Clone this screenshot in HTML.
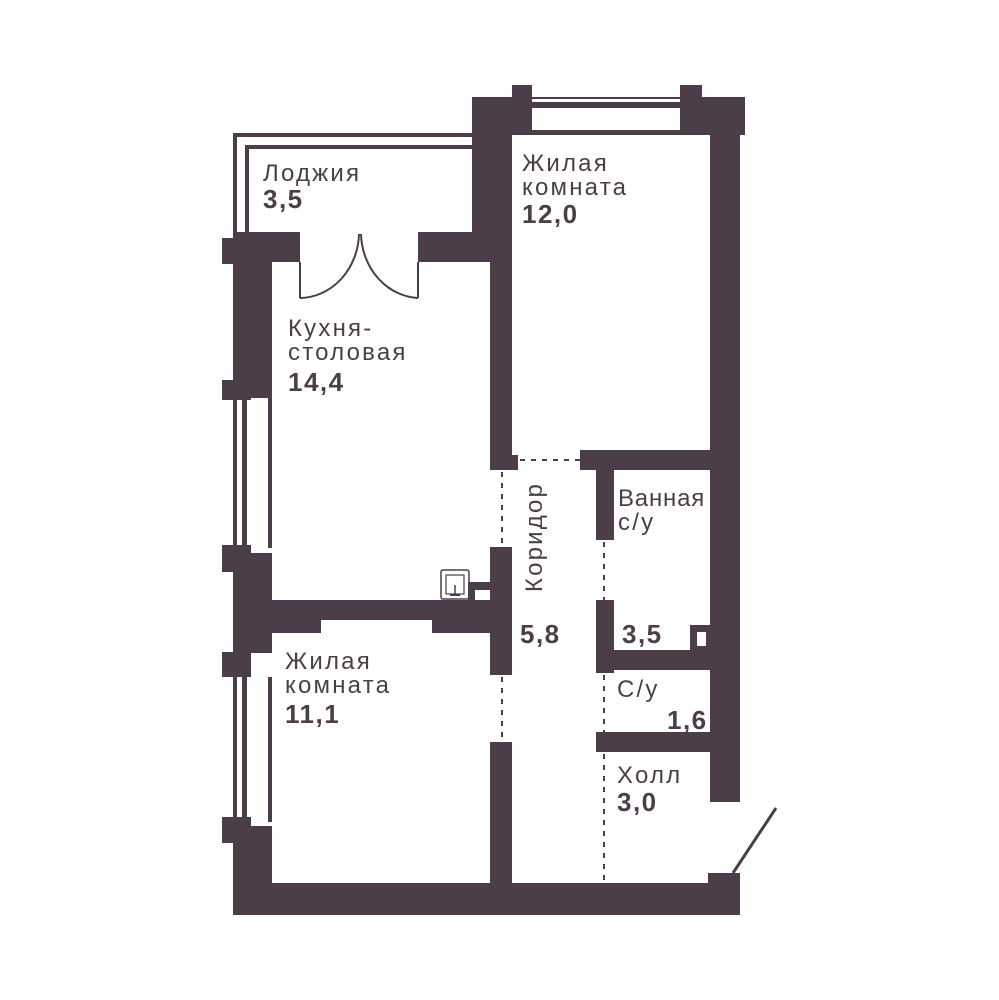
<!DOCTYPE html>
<html><head><meta charset="utf-8"><style>
html,body{margin:0;padding:0;background:#fff;}
svg{display:block;}
text{font-family:"Liberation Sans","DejaVu Sans",sans-serif;fill:#4b3e48;font-size:24px;letter-spacing:2.2px;}
.b{font-weight:bold;font-size:26px;letter-spacing:1.5px;}
.n{letter-spacing:0.8px;}
</style></head><body>
<svg width="999" height="1000" viewBox="0 0 999 1000" xmlns="http://www.w3.org/2000/svg">
<g fill="#4b3e48">
<rect x="472" y="97" width="273" height="38"/>
<rect x="512" y="85" width="20" height="50"/>
<rect x="680" y="85" width="22" height="50"/>
<rect x="472" y="97" width="40" height="165"/>
<rect x="490" y="250" width="22" height="220"/>
<rect x="490" y="455" width="28" height="15"/>
<rect x="710" y="97" width="30" height="705"/>
<rect x="233" y="133" width="239" height="4"/>
<rect x="233" y="133" width="4" height="102"/>
<rect x="245" y="145" width="227" height="4"/>
<rect x="245" y="145" width="4" height="90"/>
<rect x="233" y="232" width="67" height="30"/>
<rect x="222" y="238" width="14" height="26"/>
<rect x="418" y="232" width="94" height="30"/>
<rect x="233" y="232" width="39" height="166"/>
<rect x="222" y="380" width="29" height="20"/>
<rect x="233" y="398" width="4" height="150"/>
<rect x="242" y="398" width="5" height="150"/>
<rect x="268" y="398" width="4" height="150"/>
<rect x="222" y="545" width="29" height="27"/>
<rect x="233" y="553" width="39" height="100"/>
<rect x="222" y="652" width="29" height="25"/>
<rect x="233" y="677" width="4" height="145"/>
<rect x="242" y="677" width="5" height="145"/>
<rect x="268" y="677" width="4" height="145"/>
<rect x="222" y="817" width="29" height="26"/>
<rect x="233" y="826" width="39" height="89"/>
<rect x="272" y="600" width="238" height="20"/>
<rect x="272" y="618" width="49" height="15"/>
<rect x="432" y="618" width="78" height="15"/>
<rect x="490" y="547" width="22" height="128"/>
<rect x="468" y="582" width="24" height="18"/>
<rect x="490" y="742" width="22" height="145"/>
<rect x="580" y="450" width="160" height="20"/>
<rect x="596" y="450" width="18" height="90"/>
<rect x="596" y="600" width="18" height="73"/>
<rect x="596" y="650" width="144" height="20"/>
<rect x="690" y="625" width="22" height="27"/>
<rect x="596" y="732" width="144" height="20"/>
<rect x="233" y="883" width="507" height="32"/>
<rect x="708" y="873" width="32" height="42"/>
</g>
<g fill="#fff">
<rect x="532" y="99" width="148" height="3"/>
<rect x="532" y="108" width="148" height="22"/>
<rect x="475" y="590" width="15" height="10"/>
<rect x="697" y="632" width="9" height="14"/>
</g>
<g fill="none" stroke="#4b3e48" stroke-width="2">
<line x1="300" y1="262" x2="300" y2="298"/>
<path d="M300 298 A60 66 0 0 0 359 234"/>
<line x1="418" y1="262" x2="418" y2="298"/>
<path d="M418 298 A60 66 0 0 1 361 234"/>
<line x1="733" y1="873" x2="776" y2="808" stroke-width="3"/>
<rect x="441" y="570" width="28" height="29" rx="2" stroke-width="1.5"/>
<rect x="446" y="575" width="18" height="19" stroke-width="1.2"/>
<line x1="455" y1="585" x2="455" y2="595" stroke-width="1.5"/>
<line x1="450" y1="595" x2="460" y2="595" stroke-width="2"/>
</g>
<g stroke="#4b3e48" stroke-width="2" stroke-dasharray="5,6" fill="none">
<line x1="502" y1="472" x2="502" y2="547"/>
<line x1="502" y1="677" x2="502" y2="742"/>
<line x1="520" y1="460" x2="580" y2="460"/>
<line x1="604" y1="542" x2="604" y2="600"/>
<line x1="604" y1="675" x2="604" y2="732"/>
<line x1="604" y1="754" x2="604" y2="883"/>
</g>
<text x="263" y="181">Лоджия</text>
<text x="263" y="208" class="b">3,5</text>
<text x="522" y="171">Жилая</text>
<text x="522" y="195">комната</text>
<text x="522" y="223" class="b">12,0</text>
<text x="288" y="336">Кухня-</text>
<text x="288" y="360">столовая</text>
<text x="288" y="391" class="b">14,4</text>
<text x="0" y="0" text-anchor="middle" transform="translate(542,537) rotate(-90)">Коридор</text>
<text x="520" y="643" class="b">5,8</text>
<text x="618" y="506" class="n">Ванная</text>
<text x="618" y="530">с/у</text>
<text x="622" y="643" class="b">3,5</text>
<text x="617" y="697">С/у</text>
<text x="667" y="729" class="b">1,6</text>
<text x="617" y="783">Холл</text>
<text x="617" y="811" class="b">3,0</text>
<text x="285" y="669">Жилая</text>
<text x="285" y="693">комната</text>
<text x="285" y="723" class="b">11,1</text>
</svg>
</body></html>
